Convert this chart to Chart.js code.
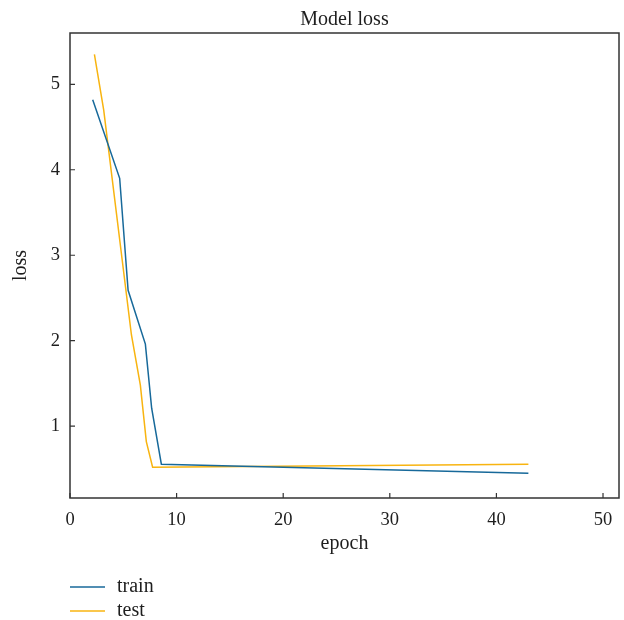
<!DOCTYPE html>
<html>
<head>
<meta charset="utf-8">
<script src="https://cdn.jsdelivr.net/npm/chart.js@4"></script>
<style>
  html, body { margin: 0; padding: 0; background: #ffffff; }
  #wrap { width: 624px; height: 620px; position: relative; }
</style>
</head>
<body>
<div id="wrap"><canvas id="c" width="624" height="620"></canvas></div>
<script>
// ---- data ----
const trainEpochs = [2.13, 4.66, 5.45, 7.07, 7.66, 8.57, 43.0];
const trainLoss   = [4.82, 3.90, 2.59, 1.96, 1.21, 0.556, 0.45];
const testEpochs  = [2.29, 3.16, 5.76, 6.60, 7.16, 7.75, 43.0];
const testLoss    = [5.35, 4.70, 2.07, 1.48, 0.82, 0.52, 0.556];
const xTickValues = [0, 10, 20, 30, 40, 50];
const yTickValues = [1, 2, 3, 4, 5];
const seriesNames = ['train', 'test'];
const chartTitle = 'Model loss';
const xTitle = 'epoch';
const yTitle = 'loss';

const FONT = "'Liberation Serif', 'DejaVu Serif', serif";
const INK = '#1e1e1e';
const COLORS = ['#17699a', '#f8b410'];

function toPoints(xs, ys) { return xs.map((x, i) => ({ x: x, y: ys[i] })); }

const framePlugin = {
  id: 'frame',
  afterDatasetsDraw(chart) {
    const { ctx, chartArea: a, scales } = chart;
    ctx.save();
    ctx.strokeStyle = '#333333';
    ctx.lineWidth = 1.5;
    ctx.strokeRect(a.left, a.top, a.right - a.left, a.bottom - a.top);
    ctx.lineWidth = 1.2;
    ctx.beginPath();
    scales.x.ticks.forEach(t => {
      const px = scales.x.getPixelForValue(t.value);
      ctx.moveTo(px, a.bottom);
      ctx.lineTo(px, a.bottom - 5);
    });
    scales.y.ticks.forEach(t => {
      const py = scales.y.getPixelForValue(t.value);
      ctx.moveTo(a.left, py);
      ctx.lineTo(a.left + 5, py);
    });
    ctx.stroke();
    ctx.restore();
  }
};

const legendPlugin = {
  id: 'vlegend',
  afterDraw(chart) {
    const { ctx, chartArea: a } = chart;
    ctx.save();
    ctx.font = '20px ' + FONT;
    ctx.textBaseline = 'middle';
    ctx.textAlign = 'left';
    chart.data.datasets.forEach((ds, i) => {
      const y = a.bottom + 89 + i * 24;
      ctx.strokeStyle = ds.borderColor;
      ctx.lineWidth = 1.5;
      ctx.beginPath();
      ctx.moveTo(a.left, y);
      ctx.lineTo(a.left + 35, y);
      ctx.stroke();
      ctx.fillStyle = INK;
      ctx.fillText(ds.label, a.left + 47, y);
    });
    ctx.restore();
  }
};

new Chart(document.getElementById('c'), {
  type: 'line',
  data: {
    datasets: [
      { label: seriesNames[0], data: toPoints(trainEpochs, trainLoss), borderColor: COLORS[0], backgroundColor: COLORS[0], borderWidth: 1.5, pointRadius: 0, tension: 0, fill: false },
      { label: seriesNames[1], data: toPoints(testEpochs, testLoss), borderColor: COLORS[1], backgroundColor: COLORS[1], borderWidth: 1.5, pointRadius: 0, tension: 0, fill: false }
    ]
  },
  options: {
    responsive: false,
    animation: false,
    layout: { padding: { left: 0, right: 5, top: 0, bottom: 60 } },
    plugins: {
      legend: { display: false },
      tooltip: { enabled: false },
      title: {
        display: true, text: chartTitle, fullSize: false,
        color: INK, font: { family: FONT, size: 20, weight: 'normal' },
        padding: { top: 8, bottom: 1 }
      }
    },
    scales: {
      x: {
        type: 'linear', min: 0, max: 51.5,
        afterBuildTicks: s => { s.ticks = xTickValues.map(v => ({ value: v })); },
        afterFit: s => { s.height = 62; },
        grid: { display: false, drawTicks: false },
        border: { display: false },
        ticks: { color: INK, font: { family: FONT, size: 18.5 }, padding: 11, maxRotation: 0 },
        title: { display: true, text: xTitle, color: INK, font: { family: FONT, size: 20 }, padding: { top: 5 } }
      },
      y: {
        type: 'linear', min: 0.16, max: 5.6,
        afterBuildTicks: s => { s.ticks = yTickValues.map(v => ({ value: v })); },
        afterFit: s => { s.width = 70; },
        grid: { display: false, drawTicks: false },
        border: { display: false },
        ticks: { color: INK, font: { family: FONT, size: 18.5 }, padding: 10 },
        title: { display: true, text: yTitle, color: INK, font: { family: FONT, size: 20 }, padding: { top: 9, bottom: 0 } }
      }
    }
  },
  plugins: [framePlugin, legendPlugin]
});
</script>
</body>
</html>
